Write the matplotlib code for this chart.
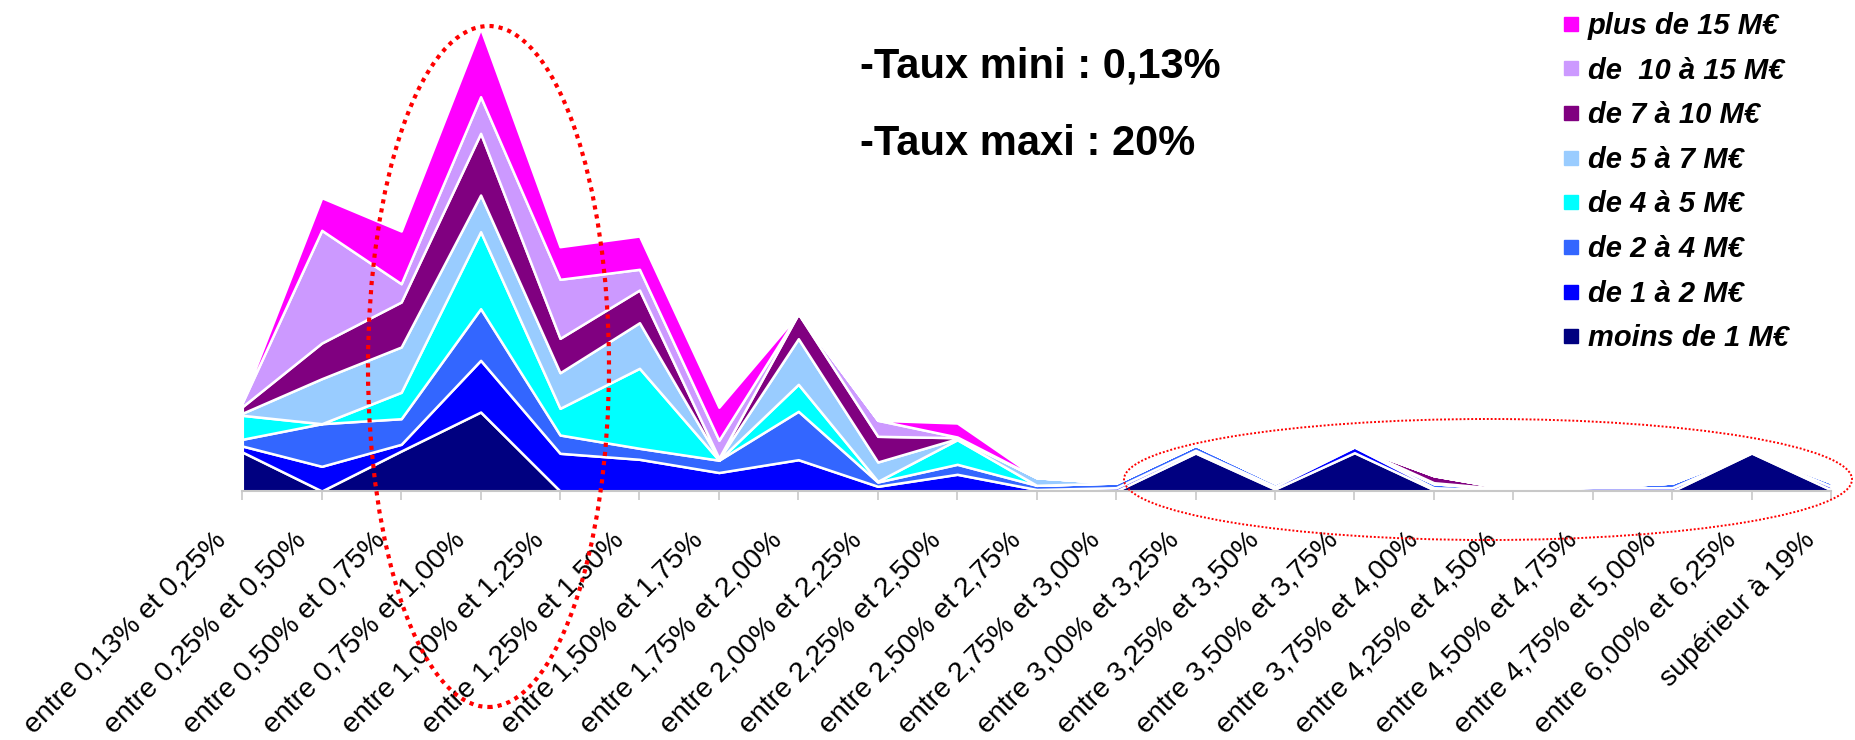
import matplotlib
matplotlib.use("Agg")
import matplotlib.pyplot as plt
from matplotlib.lines import Line2D
from matplotlib.patches import Ellipse
from matplotlib.transforms import ScaledTranslation
import numpy as np

plt.rcParams['font.family'] = ['Liberation Sans', 'DejaVu Sans']

categories = [
    "entre 0,13% et 0,25%", "entre 0,25% et 0,50%", "entre 0,50% et 0,75%",
    "entre 0,75% et 1,00%", "entre 1,00% et 1,25%", "entre 1,25% et 1,50%",
    "entre 1,50% et 1,75%", "entre 1,75% et 2,00%", "entre 2,00% et 2,25%",
    "entre 2,25% et 2,50%", "entre 2,50% et 2,75%", "entre 2,75% et 3,00%",
    "entre 3,00% et 3,25%", "entre 3,25% et 3,50%", "entre 3,50% et 3,75%",
    "entre 3,75% et 4,00%", "entre 4,25% et 4,50%", "entre 4,50% et 4,75%",
    "entre 4,75% et 5,00%", "entre 6,00% et 6,25%", "supérieur à 19%",
]

series_labels = ["moins de 1 M€", "de 1 à 2 M€", "de 2 à 4 M€", "de 4 à 5 M€",
                 "de 5 à 7 M€", "de 7 à 10 M€", "de  10 à 15 M€", "plus de 15 M€"]
series_colors = ["#000080", "#0000FF", "#3366FF", "#00FFFF",
                 "#99CCFF", "#800080", "#CC99FF", "#FF00FF"]

moins_1 = [39, 0, 40, 79, 0, 0, 0, 0, 0, 0, 0, 0, 38, 2, 38.3, 1.3, 0, 0, 0, 38, 1.3]
de_1_2 = [6, 24.7, 6.7, 51.7, 37.7, 31.7, 18.5, 31.3, 4.7, 16.7, 1.5, 3.3, 2.7, 2.7, 5.7, 2, 0.7, 3.3, 3.3, 0.5, 3.4]
de_2_4 = [6.7, 42.6, 25.6, 51.6, 18.3, 11, 12.3, 48.4, 4.3, 10, 4.2, 4.7, 5, 3.3, 0.5, 4, 0.7, 0.7, 4.7, 0.5, 4]
de_4_5 = [24, 0, 26.4, 77, 26.7, 80, 0, 27, 0.7, 24.6, 0, 0, 0, 0, 0, 0, 0, 0, 0, 0, 0]
de_5_7 = [2, 45, 45.3, 36.7, 35.6, 45.6, 1, 45.6, 19.3, 1, 7.6, 0, 0, 0, 0, 1, 0, 0, 0, 0, 0]
de_7_10 = [6.6, 35.7, 45, 61.7, 34.4, 32.7, 1, 25, 25.7, 1, 0, 0, 0, 0, 0, 7, 0, 0, 0, 0, 0]
de_10_15 = [4, 112.7, 18.3, 36.6, 59, 20.7, 18, 0, 16, 0.7, 0, 0, 0, 0, 0, 0, 0, 0, 0, 0, 0]
plus_15 = [1, 32.6, 52.7, 68.4, 32.6, 33.3, 33, 0, 0, 14, 0, 0, 0, 0, 0, 0, 0, 0, 0, 0, 0]

W, H = 1855, 740
fig = plt.figure(figsize=(W / 100, H / 100), dpi=100)

x0, x1, ybase, ytop = 242.3, 1831.0, 491.0, 20.0
ax = fig.add_axes([x0 / W, (H - ybase) / H, (x1 - x0) / W, (ybase - ytop) / H])

x = np.arange(len(categories))
ax.stackplot(x, moins_1, de_1_2, de_2_4, de_4_5, de_5_7, de_7_10, de_10_15, plus_15,
             colors=series_colors, edgecolor='white', linewidth=1.8, labels=series_labels)

ax.set_xlim(0, len(categories) - 1)
ax.set_ylim(0, ybase - ytop)
for s in ['top', 'right', 'left']:
    ax.spines[s].set_visible(False)
ax.spines['bottom'].set_color('#C8C8C8')
ax.spines['bottom'].set_linewidth(1.5)
ax.spines['bottom'].set_zorder(5)
ax.set_yticks([])
ax.set_xticks(x)
ax.set_xticklabels(categories, rotation=45, ha='right', va='center',
                   rotation_mode='anchor', fontsize=20.5)
ax.tick_params(axis='x', direction='out', length=6.5, width=1.2, color='#C8C8C8', pad=26)
shift = ScaledTranslation(-20 / 100, 0, fig.dpi_scale_trans)
for lab in ax.get_xticklabels():
    lab.set_transform(lab.get_transform() + shift)

# Legend
handles = [Line2D([], [], marker='s', markersize=10, linestyle='none',
                  color=c, markeredgecolor=c) for c in series_colors][::-1]
leg = fig.legend(handles, series_labels[::-1], loc='upper left',
                 bbox_to_anchor=(1563 / W, 1 - 12 / H), frameon=False,
                 prop=dict(family='Liberation Sans', weight='bold', style='italic', size=21),
                 handlelength=0.55, handletextpad=0.3, labelspacing=0.57, borderpad=0,
                 borderaxespad=0)

# Annotations
fig.text(860 / W, 1 - 78 / H, "-Taux mini : 0,13%", fontsize=30, fontweight='bold', va='baseline')
fig.text(860 / W, 1 - 155 / H, "-Taux maxi : 20%", fontsize=30, fontweight='bold', va='baseline')

# Red dotted ellipses (figure coordinates)
e1 = Ellipse((488.5 / W, 1 - 366.5 / H), 241 / W, 681 / H, transform=fig.transFigure,
             fill=False, edgecolor='#FF0000', linewidth=3.0, linestyle=(0, (1, 1.2)), zorder=10)
e2 = Ellipse((1488 / W, 1 - 479.5 / H), 728 / W, 121 / H, transform=fig.transFigure,
             fill=False, edgecolor='#FF0000', linewidth=1.4, linestyle=(0, (1, 1)), zorder=10)
fig.add_artist(e1)
fig.add_artist(e2)

fig.savefig("out.png", dpi=100)
